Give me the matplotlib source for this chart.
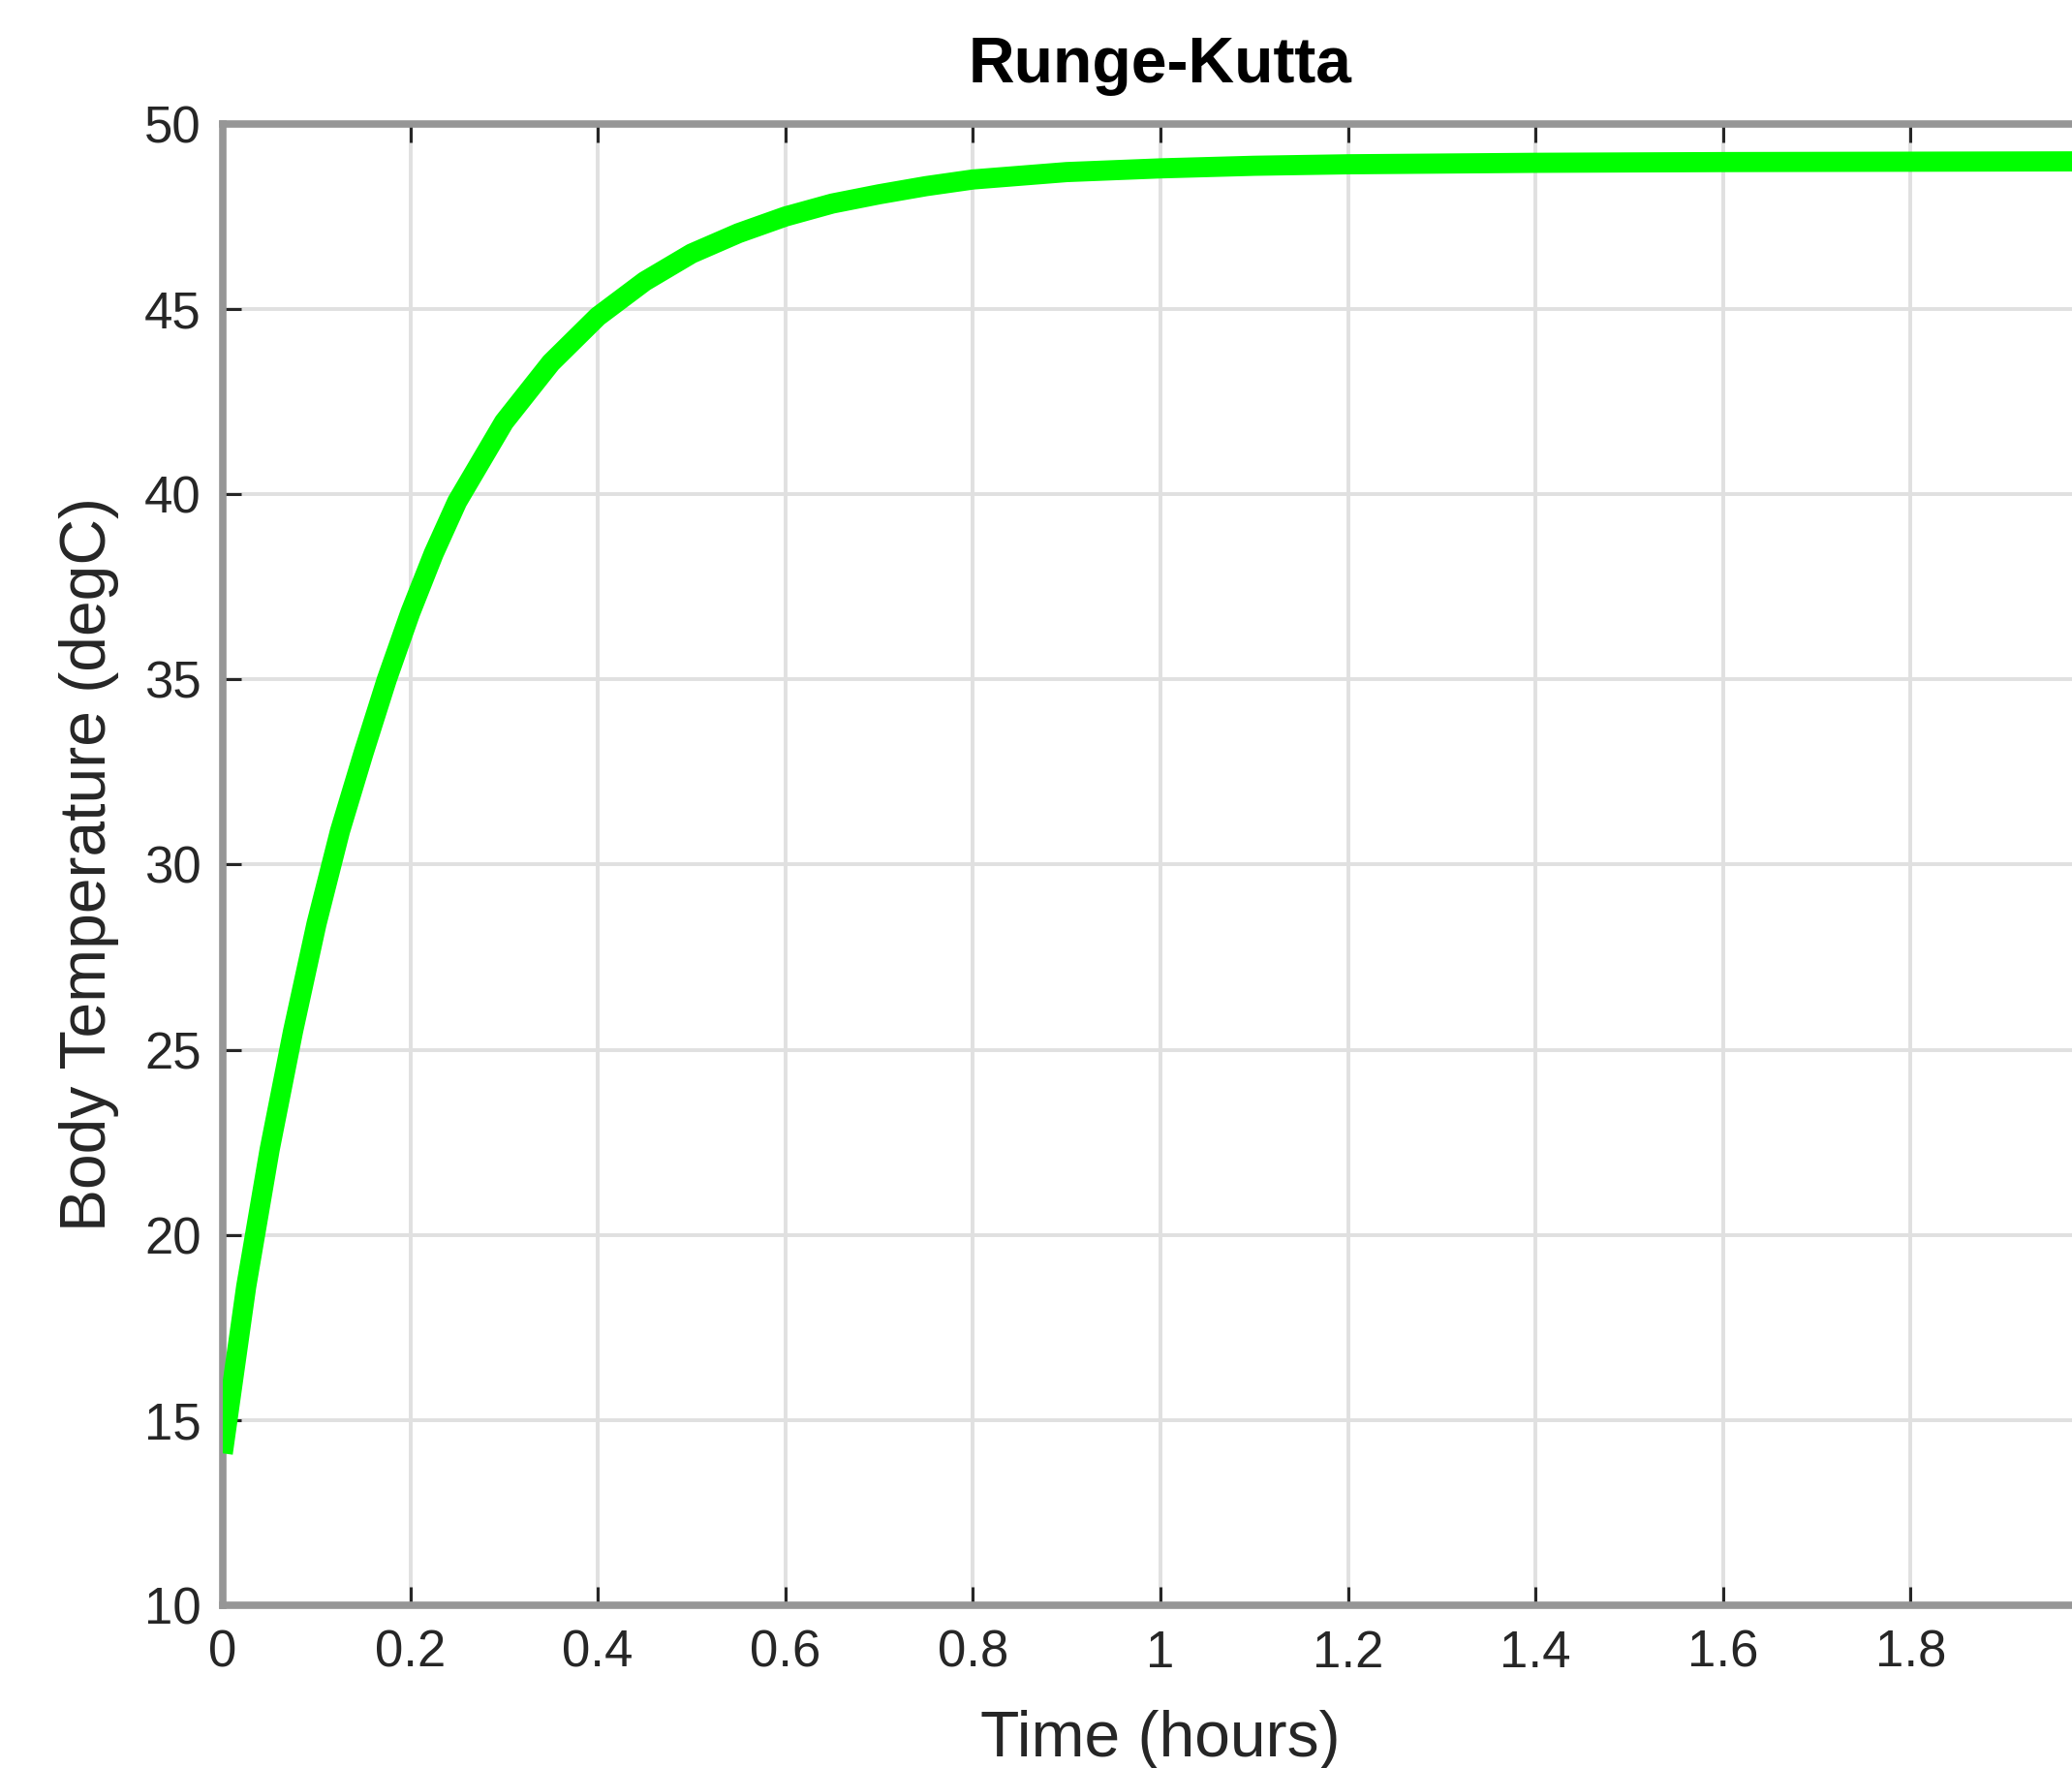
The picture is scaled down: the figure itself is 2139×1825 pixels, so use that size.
import matplotlib
matplotlib.use('Agg')
import matplotlib.pyplot as plt
import numpy as np

# values (time in hours, temperature in degC)
time_h = [0, 0.025, 0.05, 0.075, 0.1, 0.125, 0.15, 0.175, 0.2, 0.225, 0.25, 0.3,
          0.35, 0.4, 0.45, 0.5, 0.55, 0.6, 0.65, 0.7, 0.75, 0.8, 0.9, 1.0,
          1.1, 1.2, 1.4, 1.6, 1.8, 2.0]
temp_c = [14.1, 18.6, 22.3, 25.5, 28.4, 30.9, 33.0, 35.0, 36.8, 38.4, 39.8, 41.95,
          43.55, 44.8, 45.75, 46.5, 47.05, 47.5, 47.85, 48.1, 48.32, 48.5, 48.7, 48.8,
          48.87, 48.91, 48.95, 48.97, 48.98, 48.99]

xticks = [0, 0.2, 0.4, 0.6, 0.8, 1.0, 1.2, 1.4, 1.6, 1.8, 2.0]
xticklabels = ['0', '0.2', '0.4', '0.6', '0.8', '1', '1.2', '1.4', '1.6', '1.8', '2']
yticks = [10, 15, 20, 25, 30, 35, 40, 45, 50]

plt.rcParams['font.family'] = ['Liberation Sans', 'DejaVu Sans']

fig = plt.figure(figsize=(21.39, 18.25), dpi=100)
# the axes run a bit past the right edge of the picture, as in the reference
ax = fig.add_axes([0.1075, 0.0921, 0.9051, 0.8378])

ax.plot(time_h, temp_c, color='#00ff00', lw=15, solid_capstyle='butt',
        solid_joinstyle='round', zorder=3)

ax.set_xlim(0, 2)
ax.set_ylim(10, 50)
ax.set_xticks(xticks)
ax.set_xticklabels(xticklabels)
ax.set_yticks(yticks)

ax.grid(True, color='#e0e0e0', lw=2.8, zorder=0)
ax.set_axisbelow(True)

for s in ax.spines.values():
    s.set_color('#969696')
    s.set_linewidth(5.5)

ax.tick_params(direction='in', length=14, width=2.2, color='#262626',
               labelsize=38, labelcolor='#262626', top=True, right=True)
ax.tick_params(axis='y', pad=16)
ax.tick_params(axis='x', pad=18)

ax.set_xlabel('Time (hours)', fontsize=47.5, color='#262626', labelpad=24)
ax.set_ylabel('Body Temperature (degC)', fontsize=47.5, color='#262626', labelpad=19)
ax.set_title('Runge-Kutta', fontsize=47.5, fontweight='bold', color='black', pad=31)

fig.savefig('out.png', dpi=100)
